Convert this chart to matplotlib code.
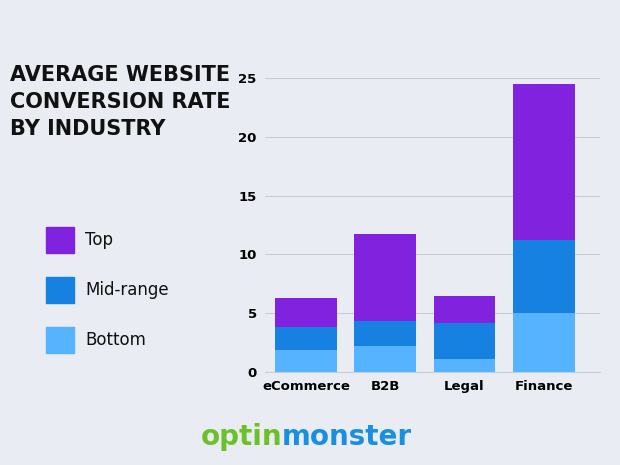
import matplotlib
matplotlib.use("Agg")
import matplotlib.pyplot as plt
from matplotlib.patches import Rectangle

categories = ["eCommerce", "B2B", "Legal", "Finance"]
bottom_vals = [1.9, 2.2, 1.1, 5.0]
mid_vals = [1.9, 2.1, 3.1, 6.2]
top_vals = [2.5, 7.4, 2.3, 13.3]
yticks = [0, 5, 10, 15, 20, 25]
series_names = ["Top", "Mid-range", "Bottom"]
colors = {"Top": "#8122df", "Mid-range": "#1681e0", "Bottom": "#55b3ff"}
bg = "#e9ecf3"

fig = plt.figure(figsize=(6.2, 4.65), dpi=100, facecolor=bg)
ax = fig.add_axes([265/620, 93/465, 335/620, 294/465], facecolor=bg)
x = range(len(categories))
w = 0.78
ax.bar(x, bottom_vals, w, color=colors["Bottom"], zorder=3)
ax.bar(x, mid_vals, w, bottom=bottom_vals, color=colors["Mid-range"], zorder=3)
b3 = [a + b for a, b in zip(bottom_vals, mid_vals)]
ax.bar(x, top_vals, w, bottom=b3, color=colors["Top"], zorder=3)
ax.set_xlim(-0.517, 3.71)
ax.set_ylim(0, 25)
ax.set_yticks(yticks)
ax.set_yticklabels([str(t) for t in yticks], fontsize=9.5, fontweight="bold")
ax.set_xticks(list(x))
ax.set_xticklabels(categories, fontsize=9.5, fontweight="bold")
ax.tick_params(length=0, pad=6)
ax.yaxis.grid(True, color="#c8ccd4", lw=0.8, zorder=0)
for s in ax.spines.values():
    s.set_visible(False)
ax.spines["bottom"].set_visible(True)
ax.spines["bottom"].set_color("#c8ccd4")

fig.text(10/620, 1 - 65/465, "AVERAGE WEBSITE\nCONVERSION RATE\nBY INDUSTRY", fontsize=15,
         fontweight="heavy", va="top", ha="left", linespacing=1.45, color="#111111")

for i, name in enumerate(series_names):
    yc = 240 + i * 50
    fig.patches.append(Rectangle((46/620, 1 - (yc + 13)/465), 28/620, 26/465,
                                 transform=fig.transFigure, color=colors[name]))
    fig.text(85/620, 1 - yc/465, name, fontsize=12, va="center", color="#111111")

fig.text(282/620, 1 - 437/465, "optin", fontsize=20, fontweight="bold", color="#6cc02a",
         ha="right", va="center")
fig.text(282/620, 1 - 437/465, "monster", fontsize=20, fontweight="bold", color="#1a8fe0",
         ha="left", va="center")
fig.savefig("out.png", dpi=100, facecolor=bg)
